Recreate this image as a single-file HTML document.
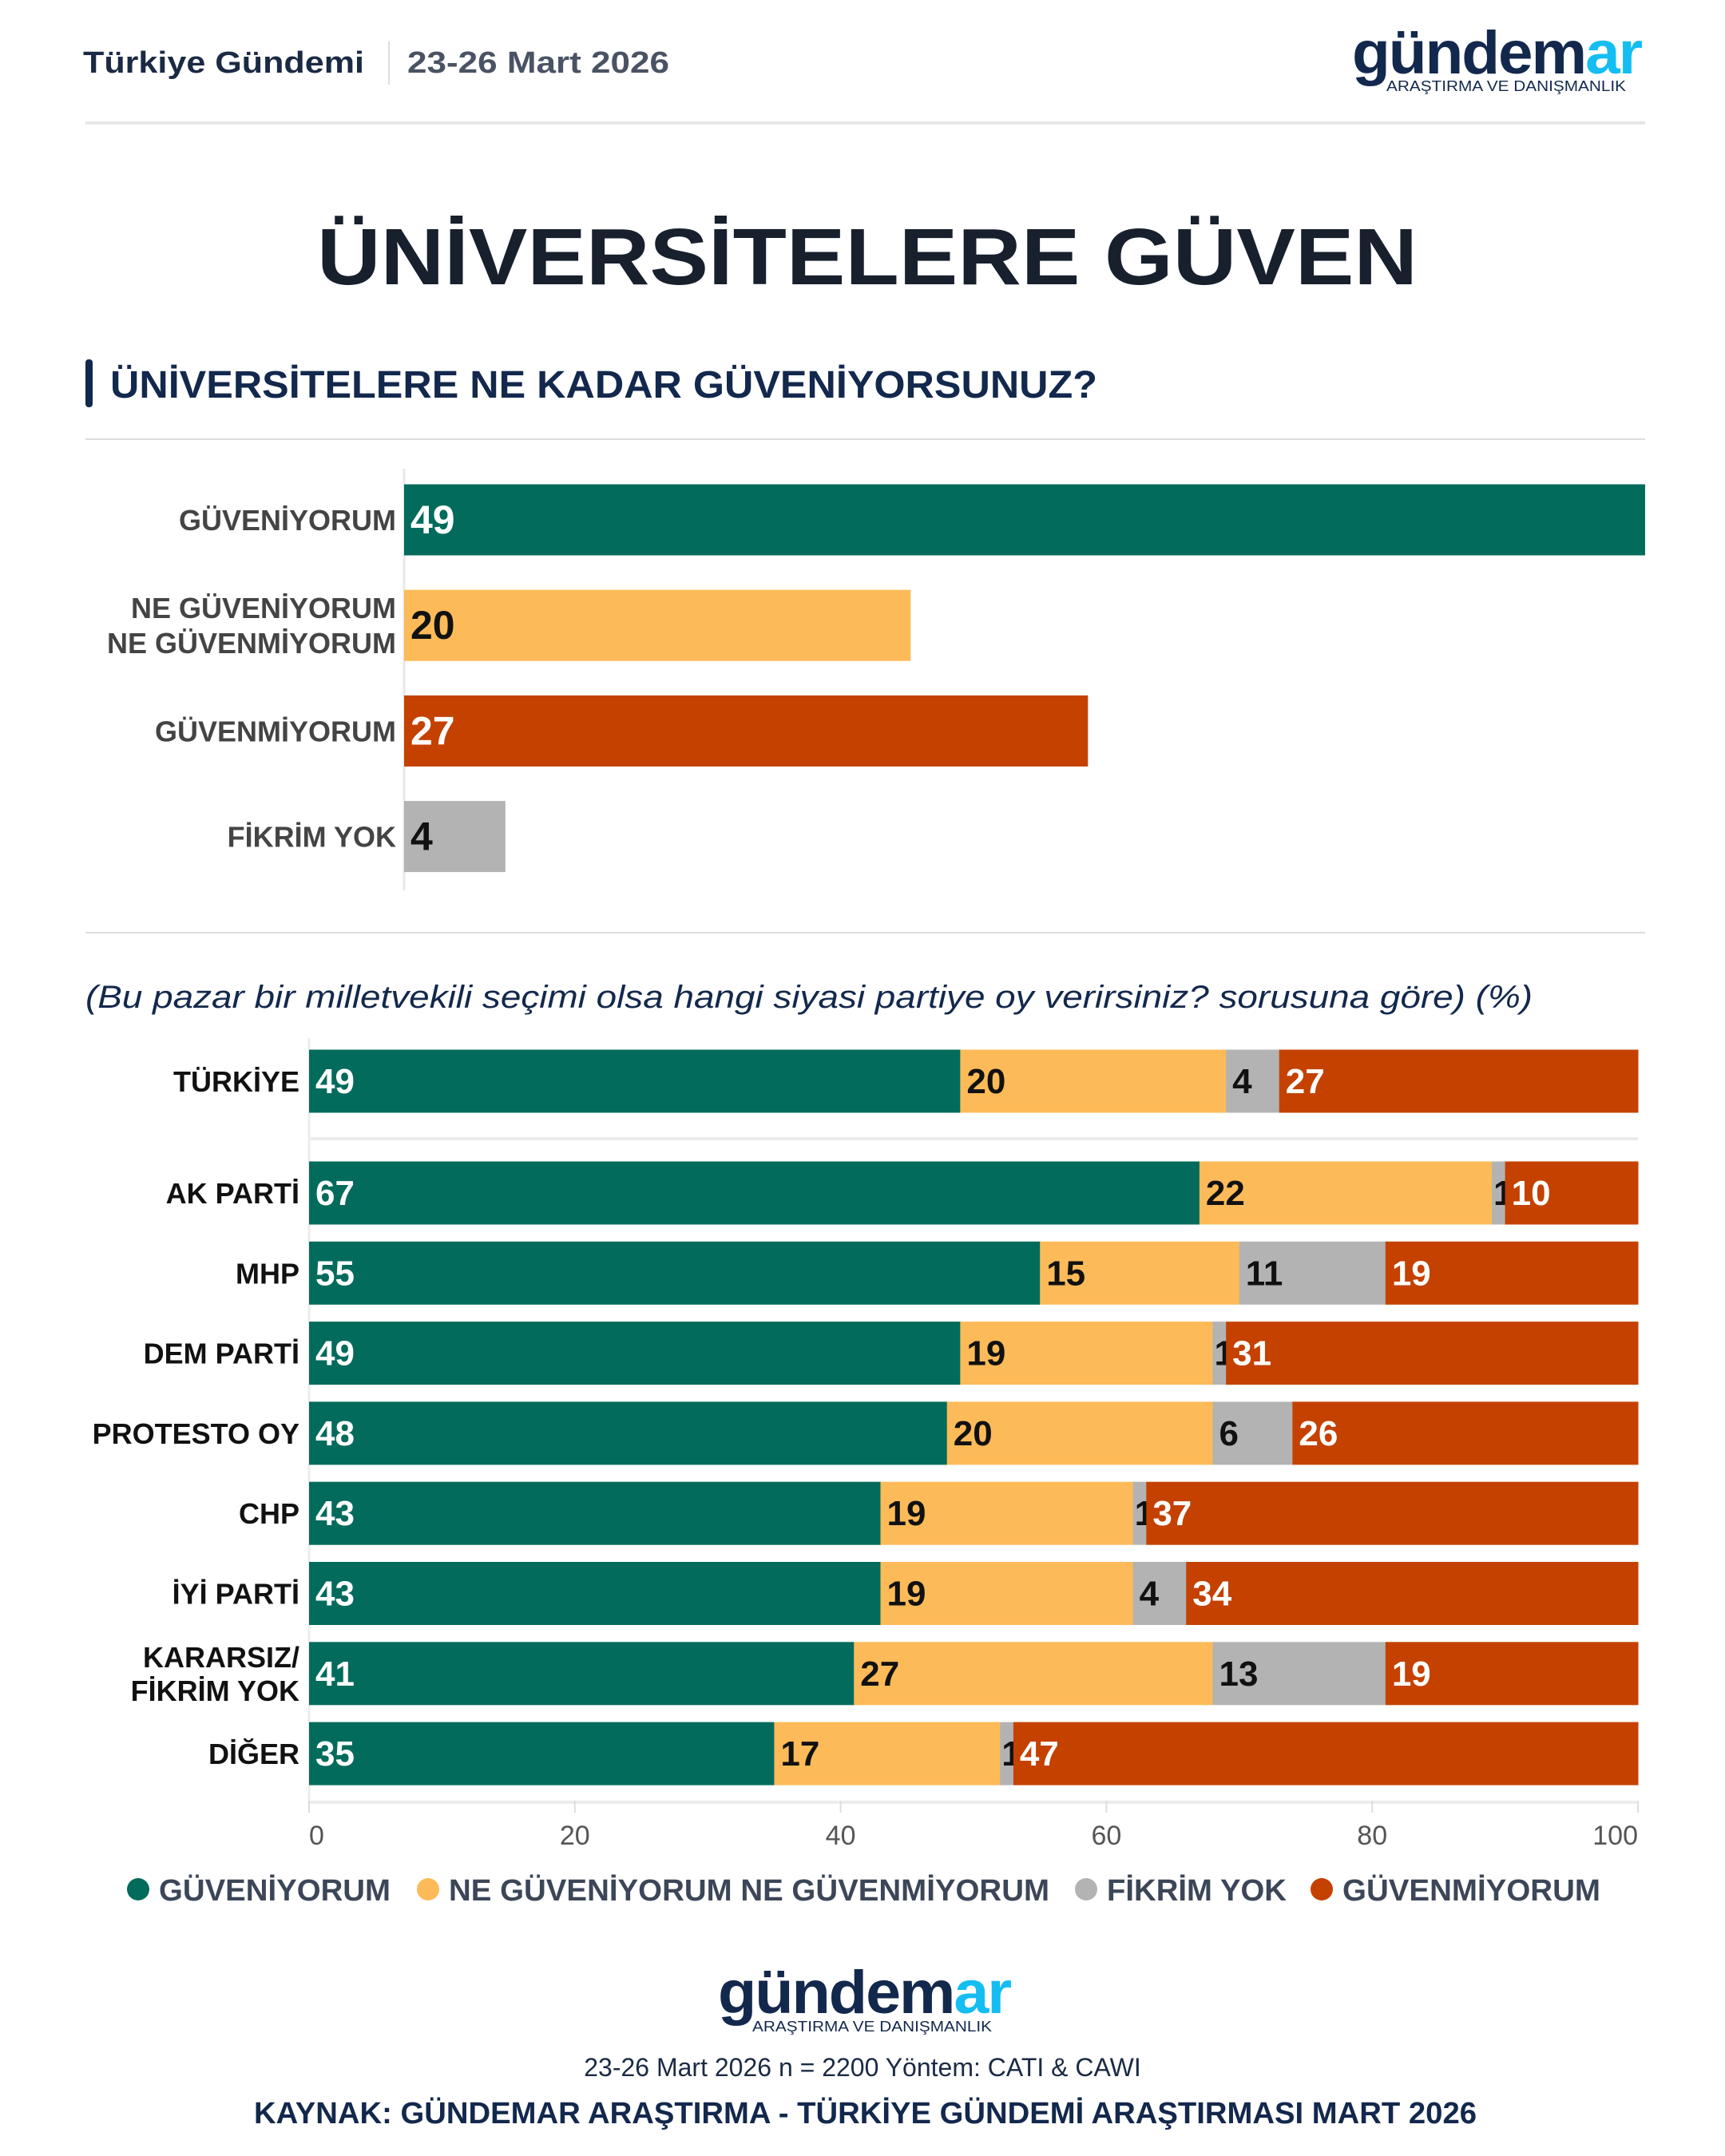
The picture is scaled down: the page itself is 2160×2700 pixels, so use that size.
<!DOCTYPE html>
<html><head><meta charset="utf-8"><style>
html,body{margin:0;padding:0;background:#fff;}
svg{display:block;font-family:"Liberation Sans",sans-serif;}
</style></head><body>
<svg id="chart" width="2160" height="2700" viewBox="0 0 2160 2700" xmlns="http://www.w3.org/2000/svg">
<g>
<text x="104" y="91" font-size="38" font-weight="bold" fill="#1b2a44" textLength="352" lengthAdjust="spacingAndGlyphs">Türkiye Gündemi</text>
<line x1="487" y1="52" x2="487" y2="106" stroke="#ddd" stroke-width="2"/>
<text x="510" y="91" font-size="38" font-weight="bold" fill="#4a5364" textLength="328" lengthAdjust="spacingAndGlyphs">23-26 Mart 2026</text>
<g>
<text x="1693" y="92" font-size="76" font-weight="bold" textLength="362" lengthAdjust="spacingAndGlyphs" letter-spacing="-2"><tspan fill="#13284d">gündem</tspan><tspan fill="#14bdf2">ar</tspan></text>
<text x="1736" y="114" font-size="18" fill="#13284d" textLength="300" lengthAdjust="spacingAndGlyphs">ARAŞTIRMA VE DANIŞMANLIK</text>
</g>
<line x1="107" y1="154" x2="2060" y2="154" stroke="#e6e6e6" stroke-width="4"/>
</g>
<text x="397" y="356" font-size="100" font-weight="bold" fill="#18202e" textLength="1378" lengthAdjust="spacingAndGlyphs">ÜNİVERSİTELERE GÜVEN</text>
<rect x="107" y="450" width="9" height="60" rx="4" fill="#13284d"/>
<text x="138" y="498" font-size="48" font-weight="bold" fill="#13284d" textLength="1236" lengthAdjust="spacingAndGlyphs">ÜNİVERSİTELERE NE KADAR GÜVENİYORSUNUZ?</text>
<line x1="107" y1="550" x2="2060" y2="550" stroke="#ddd" stroke-width="2"/>
<g id="topchart"></g>
<line x1="107" y1="1168" x2="2060" y2="1168" stroke="#ddd" stroke-width="2"/>
<text x="107" y="1262" font-size="40" font-style="italic" fill="#13284d" textLength="1812" lengthAdjust="spacingAndGlyphs">(Bu pazar bir milletvekili seçimi olsa hangi siyasi partiye oy verirsiniz? sorusuna göre) (%)</text>
<g id="bottom"></g>
<g id="legend"></g>
<g>
<text x="899" y="2521" font-size="76" font-weight="bold" textLength="366" lengthAdjust="spacingAndGlyphs" letter-spacing="-2"><tspan fill="#13284d">gündem</tspan><tspan fill="#14bdf2">ar</tspan></text>
<text x="942" y="2544" font-size="18" fill="#13284d" textLength="300" lengthAdjust="spacingAndGlyphs">ARAŞTIRMA VE DANIŞMANLIK</text>
<text x="1080" y="2600" font-size="32" fill="#1b2a44" text-anchor="middle">23-26 Mart 2026 n = 2200 Yöntem: CATI &amp; CAWI</text>
<text x="318" y="2659" font-size="38" font-weight="bold" fill="#13284d" textLength="1531" lengthAdjust="spacingAndGlyphs">KAYNAK: GÜNDEMAR ARAŞTIRMA - TÜRKİYE GÜNDEMİ ARAŞTIRMASI MART 2026</text>
</g>
</svg>
<script>
const topCategories=[["GÜVENİYORUM"],["NE GÜVENİYORUM","NE GÜVENMİYORUM"],["GÜVENMİYORUM"],["FİKRİM YOK"]];
const topValues=[49,20,27,4];
const rowLabels=[["TÜRKİYE"],["AK PARTİ"],["MHP"],["DEM PARTİ"],["PROTESTO OY"],["CHP"],["İYİ PARTİ"],["KARARSIZ/","FİKRİM YOK"],["DİĞER"]];
const guveniyorum=[49,67,55,49,48,43,43,41,35];
const kararsiz=[20,22,15,19,20,19,19,27,17];
const fikrimYok=[4,1,11,1,6,1,4,13,1];
const guvenmiyorum=[27,10,19,31,26,37,34,19,47];
const seriesNames=["GÜVENİYORUM","NE GÜVENİYORUM NE GÜVENMİYORUM","FİKRİM YOK","GÜVENMİYORUM"];
const ticks=[0,20,40,60,80,100];

const NS="http://www.w3.org/2000/svg";
function mk(tag,attrs,parent,txt){const e=document.createElementNS(NS,tag);for(const k in attrs)e.setAttribute(k,attrs[k]);if(txt!==undefined)e.textContent=txt;parent.appendChild(e);return e;}
const colors=["#036b5c","#fdba58","#b3b3b3","#c44100"];
const txtCol=["#fff","#111","#111","#fff"];

// top chart
const topG=document.getElementById('topchart');
const tx0=506, tScale=(2060-506)/49;
const tx=v=>tx0+v*tScale;
const topColors=[colors[0],colors[1],colors[3],colors[2]];
const topTxt=[txtCol[0],txtCol[1],txtCol[3],txtCol[2]];
mk('line',{x1:tx0,y1:587,x2:tx0,y2:1115,stroke:'#e8e8e8','stroke-width':3},topG);
topValues.forEach((v,i)=>{
  const cy=651+i*132.2;
  const r=mk('rect',{x:tx0,y:cy-44.5,width:tx(v)-tx0,height:89,fill:topColors[i]},topG);
  
  
  const t=mk('text',{x:tx0+8,y:cy+17,'font-size':50,'font-weight':'bold',fill:topTxt[i]},topG,String(v));
  
  
  const lines=topCategories[i];
  lines.forEach((s,j)=>{
    const yy=cy+13+(j-(lines.length-1)/2)*44;
    const l=mk('text',{x:496,y:yy,'font-size':36,'font-weight':'bold',fill:'#444','text-anchor':'end'},topG,s);
    
    
  });
});

// bottom chart
const bot=document.getElementById('bottom');
const bx0=387,bx1=2051;
const bx=v=>bx0+(bx1-bx0)*v/100;
const rowY=i=>i===0?1354:1494+(i-1)*100.3;
mk('line',{x1:bx0,y1:1426,x2:bx1,y2:1426,stroke:'#ececec','stroke-width':4},bot);
mk('line',{x1:bx0,y1:1300,x2:bx0,y2:2258,stroke:'#ececec','stroke-width':3},bot);
mk('line',{x1:bx0,y1:2257,x2:bx1,y2:2257,stroke:'#ececec','stroke-width':4},bot);
ticks.forEach(t=>{
  mk('line',{x1:bx(t),y1:2255,x2:bx(t),y2:2270,stroke:'#ddd','stroke-width':2},bot);
  const tl=mk('text',{x:bx(t),y:2310,'font-size':34,fill:'#555','text-anchor':t===0?'start':(t===100?'end':'middle')},bot,String(t));
  
  
});
const series=[guveniyorum,kararsiz,fikrimYok,guvenmiyorum];
rowLabels.forEach((lab,i)=>{
  const cy=rowY(i);
  let acc=0;
  series.forEach((arr,k)=>{
    const v=arr[i];
    const seg=mk('rect',{x:bx(acc),y:cy-39.5,width:bx(acc+v)-bx(acc)+0.5,height:79,fill:colors[k]},bot);
    
    
    const vt=mk('text',{x:bx(acc)+(v<=1?2:8),y:cy+15,'font-size':44,'font-weight':'bold',fill:(v<=1?'#111':txtCol[k])},bot,String(v));
    
    
    acc+=v;
  });
  lab.forEach((s,j)=>{
    const yy=cy+13+(j-(lab.length-1)/2)*42;
    const l=mk('text',{x:375,y:yy,'font-size':36,'font-weight':'bold',fill:'#111','text-anchor':'end'},bot,s);
    
    
  });
});

// legend
const lg=document.getElementById('legend');
const legX=[173,536,1360,1655];
const legW=[290,752,225,323];
seriesNames.forEach((n,k)=>{
  const c=mk('circle',{cx:legX[k],cy:2366,r:14,fill:colors[k]},lg);
  
  
  const t=mk('text',{x:legX[k]+26,y:2380,'font-size':38,'font-weight':'bold',fill:'#3c4658',textLength:legW[k],lengthAdjust:'spacingAndGlyphs'},lg,n);
  
  
});
</script>
</body></html>
